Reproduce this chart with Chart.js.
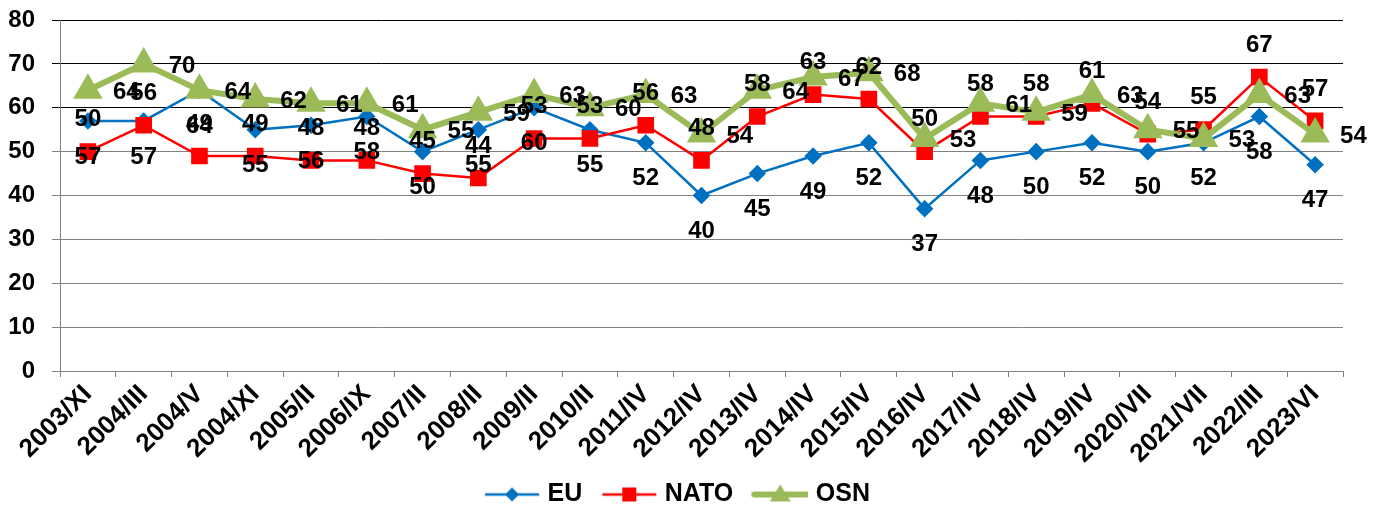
<!DOCTYPE html>
<html>
<head>
<meta charset="utf-8">
<script src="https://cdn.jsdelivr.net/npm/chart.js@4"></script>
<style>
  html, body { margin: 0; padding: 0; background: #fff; }
</style>
</head>
<body>
<canvas id="myChart" width="1381" height="508"></canvas>
<script>
var periods = ["2003/XI", "2004/III", "2004/V", "2004/XI", "2005/II", "2006/IX", "2007/II", "2008/II",
  "2009/II", "2010/II", "2011/IV", "2012/IV", "2013/IV", "2014/IV", "2015/IV", "2016/IV", "2017/IV",
  "2018/IV", "2019/IV", "2020/VII", "2021/VII", "2022/III", "2023/VI"];
var euValues   = [57, 57, 64, 55, 56, 58, 50, 55, 60, 55, 52, 40, 45, 49, 52, 37, 48, 50, 52, 50, 52, 58, 47];
var natoValues = [50, 56, 49, 49, 48, 48, 45, 44, 53, 53, 56, 48, 58, 63, 62, 50, 58, 58, 61, 54, 55, 67, 57];
var osnValues  = [64, 70, 64, 62, 61, 61, 55, 59, 63, 60, 63, 54, 64, 67, 68, 53, 61, 59, 63, 55, 53, 63, 54];
var yMin = 0, yMax = 80, yStep = 10;

var FONT = '"Liberation Sans", Arial, sans-serif';

// line+marker pictures for the legend (left part kept empty as item spacing)
function legendIcon(color, lineW, shape, r) {
  var c = document.createElement("canvas");
  c.width = 72; c.height = 26;
  var g = c.getContext("2d");
  var cx = 44, cy = 13;
  g.strokeStyle = color; g.fillStyle = color; g.lineWidth = lineW;
  g.lineCap = "round";
  g.beginPath(); g.moveTo(18, cy); g.lineTo(70, cy); g.stroke();
  g.beginPath();
  if (shape === "diamond") {
    g.moveTo(cx, cy - r); g.lineTo(cx + r, cy); g.lineTo(cx, cy + r); g.lineTo(cx - r, cy);
  } else if (shape === "square") {
    g.rect(cx - r, cy - r, 2 * r, 2 * r);
  } else {
    g.moveTo(cx, cy - r); g.lineTo(cx + r * 1.05, cy + r * 0.7); g.lineTo(cx - r * 1.05, cy + r * 0.7);
  }
  g.closePath(); g.fill();
  return c;
}

// value labels: EU below, NATO above, OSN to the right
var valueLabels = {
  id: "valueLabels",
  afterDatasetsDraw: function (chart) {
    var ctx = chart.ctx;
    ctx.save();
    ctx.font = "bold 24px " + FONT;
    ctx.fillStyle = "#000";
    ctx.textBaseline = "middle";
    chart.data.datasets.forEach(function (ds, i) {
      var meta = chart.getDatasetMeta(i);
      meta.data.forEach(function (pt, j) {
        var txt = String(ds.data[j]);
        if (ds.labelAt === "below") {
          ctx.textAlign = "center";
          ctx.fillText(txt, pt.x, pt.y + 36);
        } else if (ds.labelAt === "above") {
          ctx.textAlign = "center";
          ctx.fillText(txt, pt.x, pt.y - 32);
        } else {
          ctx.textAlign = "left";
          ctx.fillText(txt, pt.x + 25, pt.y + 2);
        }
      });
    });
    ctx.restore();
  }
};

new Chart("myChart", {
  type: "line",
  data: {
    labels: periods,
    datasets: [{
      label: "EU",
      data: euValues,
      borderColor: "#0070C0",
      backgroundColor: "#0070C0",
      borderWidth: 2.5,
      pointStyle: "rectRot",
      pointRadius: 7,
      pointHoverRadius: 7,
      order: 2,
      labelAt: "below",
      icon: legendIcon("#0070C0", 2.5, "diamond", 7)
    }, {
      label: "NATO",
      data: natoValues,
      borderColor: "#FF0000",
      backgroundColor: "#FF0000",
      borderWidth: 2.5,
      pointStyle: "rect",
      pointRadius: 10,
      pointHoverRadius: 10,
      order: 1,
      labelAt: "above",
      icon: legendIcon("#FF0000", 2.5, "square", 7)
    }, {
      label: "OSN",
      data: osnValues,
      borderColor: "#9BBB59",
      backgroundColor: "#9BBB59",
      borderWidth: 6,
      pointStyle: "triangle",
      pointRadius: 11,
      pointHoverRadius: 11,
      order: 0,
      labelAt: "right",
      icon: legendIcon("#9BBB59", 6, "triangle", 10)
    }]
  },
  options: {
    responsive: false,
    animation: false,
    layout: { padding: { left: 0, right: 38, top: 20, bottom: -9 } },
    plugins: {
      tooltip: { enabled: false },
      legend: {
        position: "bottom",
        labels: {
          usePointStyle: true,
          pointStyleWidth: 62,
          padding: 8,
          color: "#000",
          font: { family: FONT, size: 25, weight: "bold" },
          generateLabels: function (chart) {
            return chart.data.datasets.map(function (ds, i) {
              return { text: ds.label, pointStyle: ds.icon, fontColor: "#000",
                       strokeStyle: ds.borderColor, fillStyle: ds.backgroundColor,
                       lineWidth: 0, datasetIndex: i, hidden: false };
            });
          }
        }
      }
    },
    scales: {
      x: {
        offset: true,
        afterFit: function (scale) { scale.height = 103; scale.paddingLeft = 0; scale.paddingRight = 0; },
        grid: { display: true, drawOnChartArea: false, offset: true, tickLength: 6, color: "#808080" },
        border: { color: "#808080", width: 1 },
        ticks: {
          autoSkip: false, maxRotation: 45, minRotation: 45, padding: 2,
          color: "#000", font: { family: FONT, size: 26, weight: "bold" }
        }
      },
      y: {
        min: yMin, max: yMax,
        afterFit: function (scale) { scale.width = 60; scale.paddingTop = 0; scale.paddingBottom = 0; },
        grid: {
          tickLength: 8,
          color: function (c) { return c.tick && c.tick.value >= 60 ? "#000" : "#808080"; }
        },
        border: { color: "#808080", width: 1 },
        ticks: {
          stepSize: yStep, padding: 17,
          color: "#000", font: { family: FONT, size: 24, weight: "bold" }
        }
      }
    }
  },
  plugins: [valueLabels]
});
</script>
</body>
</html>
